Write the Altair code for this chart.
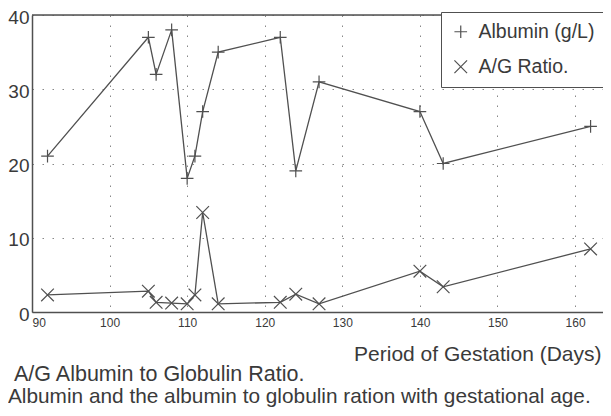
import altair as alt
import pandas as pd

days = [92, 105, 106, 108, 110, 111, 112, 114, 122, 124, 127, 140, 143, 162]
albumin = [21, 37, 32, 38, 18, 21, 27, 35, 37, 19, 31, 27, 20, 25]
ag_ratio = [2.3, 2.8, 1.3, 1.2, 1.1, 2.3, 13.4, 1.1, 1.3, 2.4, 1.1, 5.5, 3.4, 8.5]
series_names = ["Albumin (g/L)", "A/G Ratio."]
x_ticks = [90, 100, 110, 120, 130, 140, 150, 160]
y_ticks = [0, 10, 20, 30, 40]

rows = []
for d, a, r in zip(days, albumin, ag_ratio):
    rows.append({"day": d, "value": a, "series": series_names[0]})
    rows.append({"day": d, "value": r, "series": series_names[1]})
df = pd.DataFrame(rows)

W, H = 571, 297
INK = "#505050"
TXT = "#3a3a3a"
FS = 19.5

x_enc = alt.X("day:Q",
              scale=alt.Scale(domain=[90, 163.6], nice=False, zero=False),
              axis=alt.Axis(values=x_ticks, title="Period of Gestation (Days)",
                            grid=True, gridDash=[1.5, 8.5], gridColor="#888", gridWidth=1,
                            ticks=False, labelFontSize=12, labelPadding=5,
                            labelColor=TXT, domainColor=INK, domainWidth=1.5,
                            titleFontSize=21, titleFontWeight="normal", titleColor=TXT,
                            titleAnchor="end", titleAlign="right", titleBaseline="alphabetic",
                            titleX=W - 2, titleY=48))
y_enc = alt.Y("value:Q",
              scale=alt.Scale(domain=[0, 40], nice=False),
              axis=alt.Axis(values=y_ticks, title=None,
                            grid=True, gridDash=[1.5, 8.5], gridColor="#888", gridWidth=1,
                            ticks=False, labelFontSize=19, labelPadding=3, labelOffset=2,
                            labelColor=TXT, domainColor=INK, domainWidth=1.5))

shape_scale = alt.Scale(domain=series_names,
                        range=["M-1,0L1,0M0,-1L0,1", "M-1,-1L1,1M-1,1L1,-1"])

base = alt.Chart(df)
lines = base.mark_line(color=INK, strokeWidth=1.3).encode(
    x=x_enc, y=y_enc, detail="series:N")
points = base.mark_point(filled=False, color=INK, strokeWidth=1.2, size=160, opacity=1).encode(
    x="day:Q", y="value:Q",
    shape=alt.Shape("series:N", scale=shape_scale,
                    legend=alt.Legend(title=None, orient="none", legendX=409, legendY=-3,
                                      labelFontSize=FS, labelColor=TXT, symbolSize=160,
                                      symbolStrokeColor=INK, symbolStrokeWidth=1.2,
                                      padding=10, rowPadding=14, labelOffset=8,
                                      strokeColor=INK, fillColor="white",
                                      labelLimit=300)))

top_rule = alt.Chart(pd.DataFrame({"k": [0]})).mark_rule(color=INK, strokeWidth=1.5).encode(
    y=alt.value(0), x=alt.value(0), x2=alt.value(W))

note = alt.Chart(pd.DataFrame({"t": ["A/G Albumin to Globulin Ratio."]})).mark_text(
    align="left", baseline="alphabetic", fontSize=21.5, color=TXT).encode(
    text="t:N", x=alt.value(-18), y=alt.value(366))
caption = alt.Chart(pd.DataFrame({"t": ["Albumin and the albumin to globulin ration with gestational age."]})).mark_text(
    align="left", baseline="alphabetic", fontSize=20.8, color=TXT).encode(
    text="t:N", x=alt.value(-24), y=alt.value(388))

chart = alt.layer(lines, points, top_rule, note, caption).properties(
    width=W, height=H,
    autosize=alt.AutoSizeParams(type="none"),
    padding={"left": 24, "top": 7, "right": 0, "bottom": 96},
    background="white",
).configure_view(stroke=None).configure(font="Liberation Sans")

chart.save("out.html", embed_options={"renderer": "svg", "actions": False})
